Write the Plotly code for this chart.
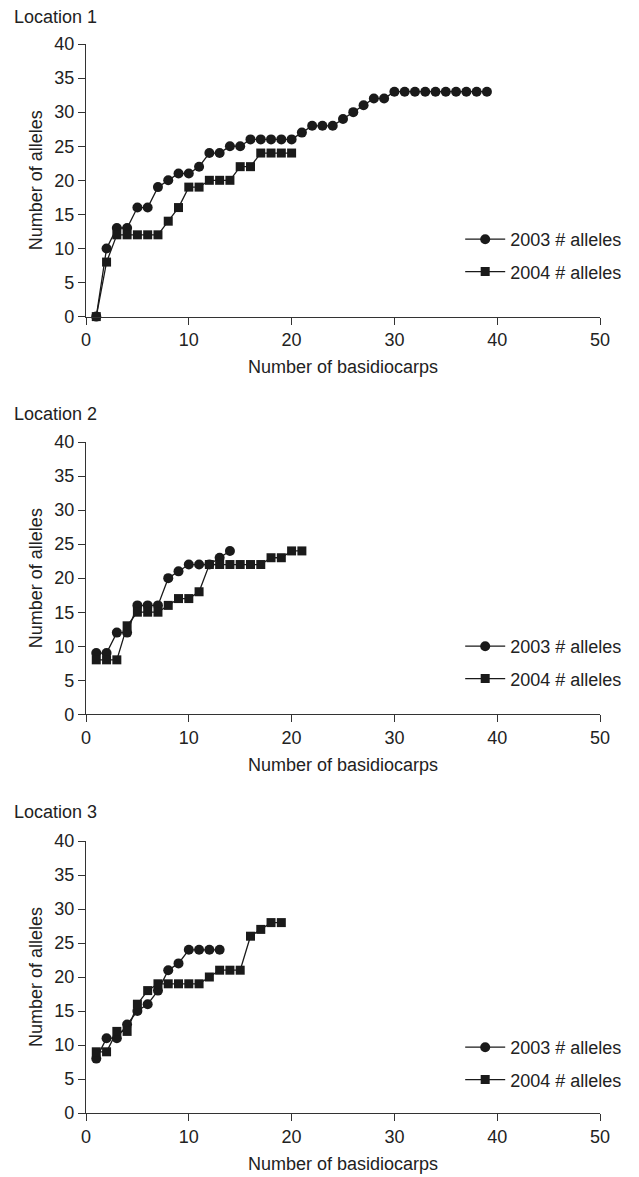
import plotly.graph_objects as go

# ---- data (number of alleles vs number of basidiocarps) ----
loc1_2003 = [0, 10, 13, 13, 16, 16, 19, 20, 21, 21, 22, 24, 24, 25, 25, 26, 26, 26, 26, 26,
             27, 28, 28, 28, 29, 30, 31, 32, 32, 33, 33, 33, 33, 33, 33, 33, 33, 33, 33]
loc1_2004 = [0, 8, 12, 12, 12, 12, 12, 14, 16, 19, 19, 20, 20, 20, 22, 22, 24, 24, 24, 24]
loc2_2003 = [9, 9, 12, 12, 16, 16, 16, 20, 21, 22, 22, 22, 23, 24]
loc2_2004 = [8, 8, 8, 13, 15, 15, 15, 16, 17, 17, 18, 22, 22, 22, 22, 22, 22, 23, 23, 24, 24]
loc3_2003 = [8, 11, 11, 13, 15, 16, 18, 21, 22, 24, 24, 24, 24]
loc3_2004 = [9, 9, 12, 12, 16, 18, 19, 19, 19, 19, 19, 20, 21, 21, 21, 26, 27, 28, 28]

location_labels = ["Location 1", "Location 2", "Location 3"]
series_names = ["2003 # alleles", "2004 # alleles"]
x_title = "Number of basidiocarps"
y_title = "Number of alleles"

panels = [(loc1_2003, loc1_2004), (loc2_2003, loc2_2004), (loc3_2003, loc3_2004)]

FONT = "Liberation Sans, Arial, Helvetica, sans-serif"
INK = "#1a1a1a"
AX = "#333333"

OFF = 8  # default page body margin
W, H = 639 - OFF, 1177 - OFF
ML, MR, MT, MB = 86 - OFF, 37, 44 - OFF, 64
PH = H - MT - MB  # plot area height in px


def frac(py):
    """page pixel (from top) -> paper fraction"""
    return (H - MB - (py - OFF)) / PH


y_domains = [[frac(316.6), frac(44)], [frac(714.3), frac(442)], [0.0, frac(841)]]
legend_tops = [221, 628, 1029]
label_y = [17, 414, 812]

fig = go.Figure()
layout = dict(
    width=W, height=H,
    margin=dict(l=ML, r=MR, t=MT, b=MB),
    paper_bgcolor="white", plot_bgcolor="white",
    font=dict(family=FONT, size=18, color="#222"),
    annotations=[],
)

for i, (s03, s04) in enumerate(panels):
    n = i + 1
    xa = "x" if n == 1 else f"x{n}"
    ya = "y" if n == 1 else f"y{n}"
    lg = "legend" if n == 1 else f"legend{n}"
    for vals, name, sym, size in [(s03, series_names[0], "circle", 10),
                                  (s04, series_names[1], "square", 9)]:
        fig.add_trace(go.Scatter(
            x=list(range(1, len(vals) + 1)), y=vals,
            mode="lines+markers", name=name,
            line=dict(color=INK, width=1.3),
            marker=dict(symbol=sym, size=size, color=INK),
            xaxis=xa, yaxis=ya, legend=lg, legendgroup=f"{n}-{name}",
            cliponaxis=False,
        ))
    axis_common = dict(showline=True, linecolor=AX, linewidth=1.3, ticks="outside",
                       ticklen=7, tickwidth=1.3, tickcolor=AX, showgrid=False,
                       zeroline=False, tickfont=dict(size=18, family=FONT, color="#222"),
                       automargin=False)
    layout[f"xaxis{'' if n == 1 else n}"] = dict(
        axis_common, range=[0, 50], dtick=10, anchor=ya, domain=[0, 1],
        title=dict(text=x_title, standoff=11, font=dict(size=18, family=FONT, color="#222")),
    )
    layout[f"yaxis{'' if n == 1 else n}"] = dict(
        axis_common, range=[0, 40], dtick=5, anchor=xa, domain=y_domains[i],
        title=dict(text=y_title, standoff=6, font=dict(size=18, family=FONT, color="#222")),
    )
    layout[lg] = dict(
        x=0.728, y=frac(legend_tops[i]), xanchor="left", yanchor="top",
        bgcolor="rgba(0,0,0,0)", font=dict(size=18, family=FONT, color="#222"),
        itemwidth=40, tracegroupgap=6,
    )
    layout["annotations"].append(dict(
        text=location_labels[i], xref="paper", yref="paper",
        x=(12 - 86) / (W - ML - MR), y=frac(label_y[i]),
        xanchor="left", yanchor="middle", showarrow=False,
        font=dict(size=18, family=FONT, color="#222"),
    ))

fig.update_layout(**layout)
fig.write_html("out.html")
